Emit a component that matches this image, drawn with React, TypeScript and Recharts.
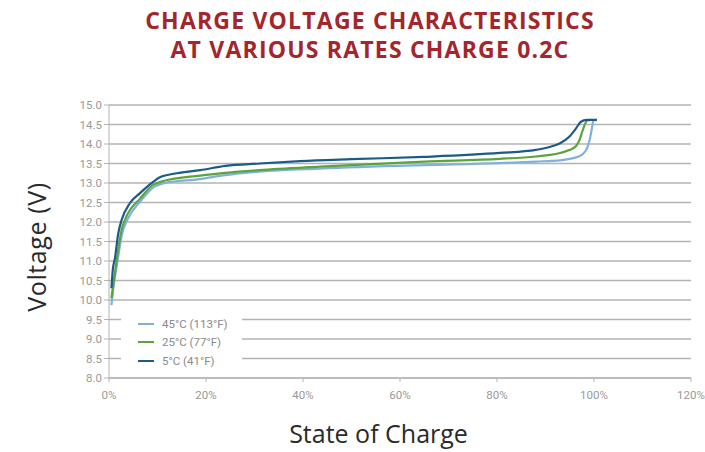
import React from "react";
import { LineChart, Line, XAxis, YAxis, CartesianGrid } from "recharts";

const soc5 = [0.5, 0.8, 1.2, 1.9, 2.6, 4.3, 6.4, 8.5, 10.5, 14, 18.8, 24, 31, 39.4, 50, 65, 80.6, 88, 91, 93, 95, 96.3, 97.3, 98.5, 100.6];
const volt5 = [10.3, 10.8, 11.05, 11.7, 12.05, 12.48, 12.74, 12.97, 13.15, 13.25, 13.33, 13.44, 13.5, 13.56, 13.61, 13.67, 13.77, 13.85, 13.93, 14.02, 14.2, 14.4, 14.57, 14.62, 14.62];

const soc25 = [0.5, 1.0, 1.6, 2.6, 3.6, 6.4, 9.1, 11.2, 18.8, 24, 31, 43.5, 65, 80.6, 88, 91, 93, 95, 96.3, 97, 97.7, 98.6, 99.4];
const volt25 = [10.05, 10.5, 11.03, 11.8, 12.14, 12.6, 12.95, 13.05, 13.19, 13.26, 13.33, 13.42, 13.55, 13.62, 13.68, 13.72, 13.77, 13.85, 13.95, 14.1, 14.36, 14.6, 14.62];

const soc45 = [0.5, 1.0, 1.7, 2.7, 3.8, 6.6, 9.3, 11.5, 18.8, 24, 31, 43.5, 65, 80.6, 88, 93, 95.5, 97.5, 98.6, 99.1, 99.5, 99.9, 100.6];
const volt45 = [9.87, 10.4, 10.95, 11.7, 12.06, 12.55, 12.9, 13.0, 13.1, 13.2, 13.29, 13.37, 13.46, 13.51, 13.55, 13.58, 13.63, 13.72, 13.9, 14.1, 14.36, 14.6, 14.62];

const xTicks = [0, 20, 40, 60, 80, 100, 120];
const yTicks = [8, 8.5, 9, 9.5, 10, 10.5, 11, 11.5, 12, 12.5, 13, 13.5, 14, 14.5, 15];

const seriesNames = ["45°C (113°F)", "25°C (77°F)", "5°C (41°F)"];
const colors = ["#7fb1dc", "#5ba43c", "#1b5b87"];

const toPts = (xs: number[], ys: number[]) => xs.map((x, i) => ({ x, v: ys[i] }));
const series = [toPts(soc45, volt45), toPts(soc25, volt25), toPts(soc5, volt5)];

const font = "Roboto, 'Noto Sans', sans-serif";
const titleFont = "'Open Sans', sans-serif";

export default function App() {
  return (
    <div style={{ position: "absolute", left: 0, top: 0, width: 705, height: 452, background: "#fff" }}>
      <div
        style={{
          position: "absolute",
          left: 0,
          top: 6,
          width: 740,
          textAlign: "center",
          color: "#a3262d",
          fontFamily: titleFont,
          fontWeight: 700,
          fontSize: 23,
          lineHeight: "29px",
          letterSpacing: 1.2,
        }}
      >
        <div>CHARGE VOLTAGE CHARACTERISTICS</div>
        <div>AT VARIOUS RATES CHARGE 0.2C</div>
      </div>
      <LineChart width={705} height={452} margin={{ top: 105, right: 14, bottom: 44, left: 49 }}>
        <CartesianGrid vertical={false} stroke="#b3b3b3" strokeWidth={1.3} />
        <XAxis
          type="number"
          dataKey="x"
          domain={[0, 120]}
          ticks={xTicks}
          interval={0}
          tickFormatter={(v) => `${v}%`}
          height={30}
          tickSize={4}
          tickMargin={9}
          stroke="#b3b3b3"
          tick={{ fill: "#999", fontSize: 11.5, fontFamily: font }}
          allowDataOverflow
        />
        <YAxis
          type="number"
          domain={[8, 15]}
          ticks={yTicks}
          interval={0}
          tickFormatter={(v) => Number(v).toFixed(1)}
          width={60}
          tickSize={5}
          tickMargin={2}
          stroke="#b3b3b3"
          tick={{ fill: "#999", fontSize: 11.5, fontFamily: font }}
        />
        {series.map((d, i) => (
          <Line
            key={seriesNames[i]}
            data={d}
            dataKey="v"
            name={seriesNames[i]}
            type="monotone"
            stroke={colors[i]}
            strokeWidth={2.2}
            dot={false}
            isAnimationActive={false}
          />
        ))}
      </LineChart>
      <div
        style={{
          position: "absolute",
          left: 121,
          top: 315,
          width: 121,
          height: 55,
          background: "#fff",
        }}
      >
        {seriesNames.map((n, i) => (
          <div
            key={n}
            style={{ position: "absolute", left: 0, top: i * 18.3, height: 18, display: "flex", alignItems: "center" }}
          >
            <div style={{ width: 16, height: 2, background: colors[i], marginLeft: 17 }} />
            <span style={{ marginLeft: 8, fontSize: 11.5, color: "#8a8a8a", fontFamily: font, whiteSpace: "nowrap" }}>{n}</span>
          </div>
        ))}
      </div>
      <div
        style={{
          position: "absolute",
          left: 36,
          top: 246.5,
          transform: "translate(-50%, -50%) rotate(-90deg)",
          whiteSpace: "nowrap",
          fontFamily: titleFont,
          fontSize: 25,
          letterSpacing: 0.6,
          color: "#2a2a2a",
        }}
      >
        Voltage (V)
      </div>
      <div
        style={{
          position: "absolute",
          left: 378.5,
          top: 433,
          transform: "translate(-50%, -50%)",
          whiteSpace: "nowrap",
          fontFamily: titleFont,
          fontSize: 25,
          color: "#2a2a2a",
        }}
      >
        State of Charge
      </div>
    </div>
  );
}
